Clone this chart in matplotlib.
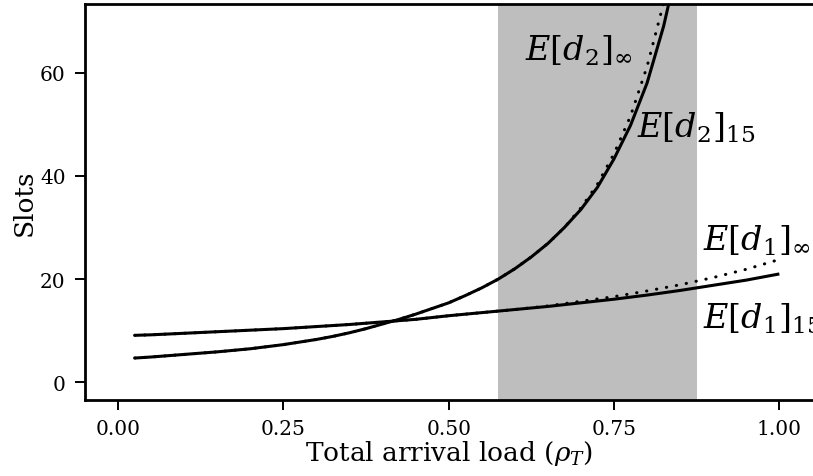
import matplotlib
matplotlib.use('Agg')
import matplotlib.pyplot as plt

# 그림에서 읽어낸 값들 (추정치)
rho = [0.025, 0.05, 0.10, 0.15, 0.20, 0.25, 0.30, 0.35, 0.40, 0.45,
       0.50, 0.55, 0.60, 0.65, 0.70, 0.75, 0.80, 0.85, 0.90, 0.95, 1.00]
d1_15 = [9.1, 9.2, 9.5, 9.8, 10.1, 10.4, 10.8, 11.2, 11.7, 12.2,
         12.9, 13.5, 14.1, 14.7, 15.4, 16.1, 16.9, 17.8, 18.8, 19.8, 21.0]
d1_inf = [9.1, 9.2, 9.5, 9.8, 10.1, 10.4, 10.8, 11.2, 11.7, 12.2,
          12.9, 13.5, 14.1, 14.8, 15.7, 16.6, 17.7, 18.9, 20.3, 21.9, 23.8]

rho2 = [0.025, 0.05, 0.075, 0.10, 0.125, 0.15, 0.175, 0.20, 0.225, 0.25,
        0.275, 0.30, 0.325, 0.35, 0.375, 0.40, 0.425, 0.45, 0.475, 0.50,
        0.525, 0.55, 0.575, 0.60, 0.625, 0.65, 0.675, 0.70, 0.725, 0.75,
        0.775, 0.80, 0.825, 0.85]
d2_15 = [4.7, 4.9, 5.15, 5.4, 5.65, 5.9, 6.2, 6.5, 6.9, 7.3,
         7.8, 8.3, 8.9, 9.6, 10.4, 11.3, 12.2, 13.2, 14.3, 15.4,
         16.8, 18.3, 20.0, 22.0, 24.3, 26.9, 30.0, 33.5, 37.8, 43.3,
         49.8, 58.0, 69.0, 83.0]
d2_inf = [4.7, 4.9, 5.15, 5.4, 5.65, 5.9, 6.2, 6.5, 6.9, 7.3,
          7.8, 8.3, 8.9, 9.6, 10.4, 11.3, 12.2, 13.2, 14.3, 15.4,
          16.8, 18.3, 20.0, 22.0, 24.3, 26.9, 30.0, 33.8, 38.4, 44.3,
          51.6, 61.2, 73.5, 89.0]

shade = (0.575, 0.875)

labels = [r'$E[d_2]_\infty$', r'$E[d_2]_{15}$', r'$E[d_1]_\infty$', r'$E[d_1]_{15}$']
label_x = [0.615, 0.784, 0.885, 0.885]
label_y = [62.6, 47.7, 25.8, 10.6]

plt.rcParams['font.family'] = ['DejaVu Serif']
plt.rcParams['mathtext.fontset'] = 'dejavuserif'

fig = plt.figure(figsize=(8.13, 4.77), dpi=100)
ax = fig.add_axes([85 / 813, 76 / 477, (812.4 - 85) / 813, (401 - 4.5) / 477])

ax.axvspan(shade[0], shade[1], color='#BEBEBE', lw=0, zorder=0)

ax.plot(rho, d1_15, color='black', lw=2.2, solid_capstyle='butt')
ax.plot(rho, d1_inf, color='black', lw=2.2, ls=(0, (0.1, 3.2)), dash_capstyle='round')
ax.plot(rho2, d2_15, color='black', lw=2.2, solid_capstyle='butt')
ax.plot(rho2, d2_inf, color='black', lw=2.2, ls=(0, (0.1, 3.2)), dash_capstyle='round')

# 곡선 이름 (오른쪽 끝은 원본처럼 잘림)
for t, x, y in zip(labels, label_x, label_y):
    ax.text(x, y, t, fontsize=24, ha='left', va='baseline', clip_on=False)

ax.set_xlim(-0.05, 1.05)
ax.set_ylim(-3.43, 73.4)
ax.set_xticks([0.0, 0.25, 0.5, 0.75, 1.0])
ax.set_xticklabels(['0.00', '0.25', '0.50', '0.75', '1.00'])
ax.set_yticks([0, 20, 40, 60])

for s in ['left', 'bottom', 'top']:
    ax.spines[s].set_linewidth(2.0)
ax.spines['right'].set_visible(False)
ax.tick_params(axis='both', direction='out', length=7, width=1.4, labelsize=14.5)
ax.tick_params(axis='x', pad=6.5)
ax.tick_params(axis='y', pad=7)

ax.set_xlabel(r'Total arrival load ($\rho_T$)', fontsize=19, labelpad=0)
ax.set_ylabel('Slots', fontsize=19, labelpad=2)

fig.savefig('out.png', dpi=100)
